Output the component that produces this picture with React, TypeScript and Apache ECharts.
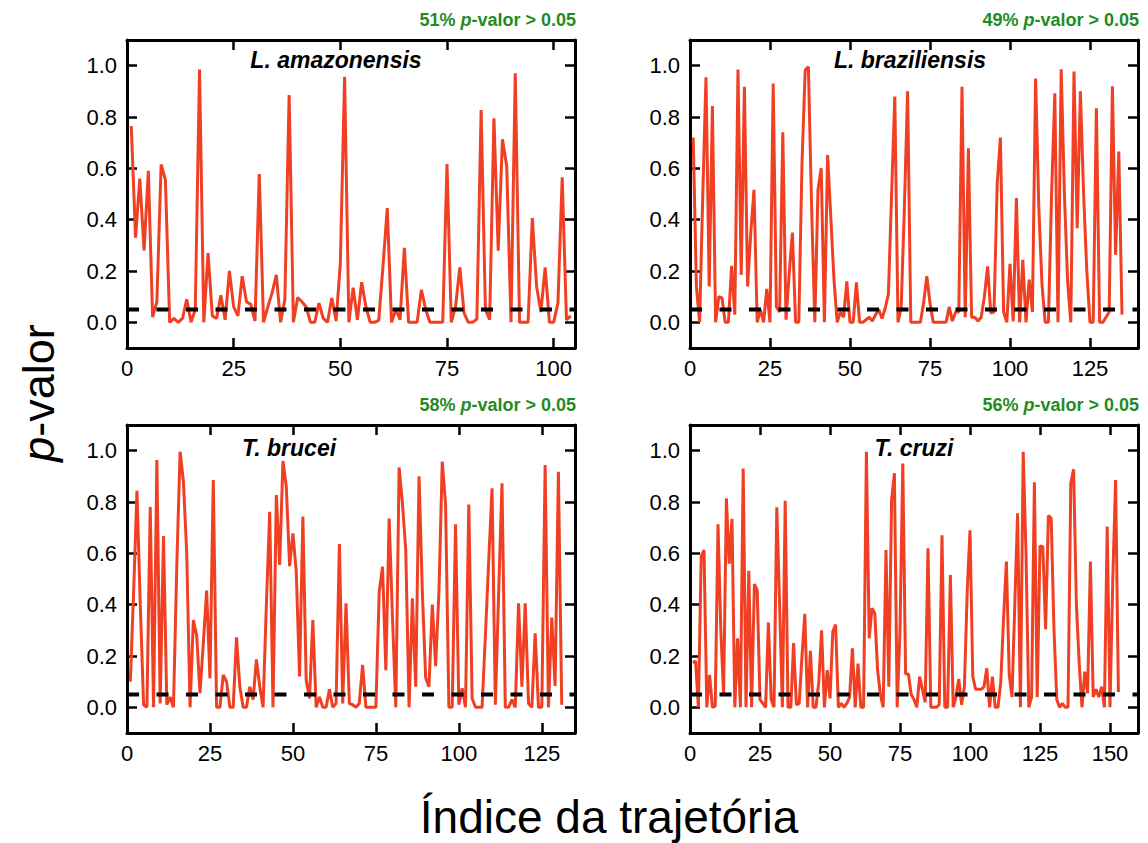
import React, { useEffect, useRef } from "react";
import * as echarts from "echarts";

// p-values per trajectory index (index starts at 1)
const amazonensis = [
  0.765, 0.33, 0.56, 0.28, 0.59, 0.02, 0.08, 0.615, 0.555, 0.0,
  0.015, 0.0, 0.015, 0.09, 0.0, 0.05, 0.985, 0.0, 0.27, 0.025,
  0.015, 0.105, 0.01, 0.2, 0.06, 0.025, 0.18, 0.08, 0.07, 0.005,
  0.578, 0.0, 0.06, 0.115, 0.185, 0.0, 0.09, 0.886, 0.0, 0.097,
  0.08, 0.06, 0.0, 0.0, 0.075, 0.015, 0.0, 0.095, 0.005, 0.23,
  0.957, 0.0, 0.135, 0.01, 0.156, 0.06, 0.0, 0.0, 0.008, 0.22,
  0.445, 0.0, 0.05, 0.01, 0.29, 0.0, 0.0, 0.0, 0.127, 0.05,
  0.0, 0.0, 0.0, 0.0, 0.617, 0.0, 0.06, 0.214, 0.036, 0.0,
  0.0, 0.013, 0.827, 0.05, 0.01, 0.795, 0.279, 0.713, 0.607, 0.0,
  0.97, 0.0, 0.0, 0.0, 0.406, 0.14, 0.04, 0.214, 0.0, 0.0,
  0.075, 0.565, 0.01, 0.025,
];

const braziliensis = [
  0.72, 0.14, 0.0, 0.5, 0.955, 0.14, 0.843, 0.0, 0.1, 0.095,
  0.0, 0.0, 0.22, 0.03, 0.985, 0.185, 0.918, 0.14, 0.35, 0.516,
  0.0, 0.05, 0.0, 0.13, 0.0, 0.93, 0.06, 0.04, 0.74, 0.01,
  0.19, 0.35, 0.0, 0.0, 0.62, 0.983, 0.996, 0.45, 0.0, 0.516,
  0.6, 0.0, 0.652, 0.41, 0.166, 0.0, 0.04, 0.02, 0.16, 0.0,
  0.0, 0.156, 0.0, 0.0, 0.01, 0.02, 0.005, 0.03, 0.05, 0.015,
  0.055, 0.11, 0.5, 0.88, 0.0, 0.06, 0.45, 0.9, 0.0, 0.0,
  0.0, 0.0, 0.075, 0.18, 0.075, 0.0, 0.0, 0.0, 0.0, 0.0,
  0.06, 0.005, 0.04, 0.04, 0.918, 0.02, 0.678, 0.02, 0.02, 0.005,
  0.02, 0.1, 0.218, 0.036, 0.04, 0.54, 0.72, 0.04, 0.0, 0.228,
  0.004, 0.484, 0.0, 0.244, 0.0, 0.166, 0.04, 0.95, 0.45, 0.147,
  0.0, 0.0, 0.5, 0.892, 0.0, 0.986, 0.5, 0.16, 0.0, 0.977,
  0.367, 0.9, 0.5, 0.2, 0.0, 0.0, 0.834, 0.0, 0.0, 0.02,
  0.04, 0.92, 0.263, 0.665, 0.03,
];

const brucei = [
  0.1, 0.45, 0.844, 0.4, 0.01, 0.0, 0.78, 0.0, 0.964, 0.015,
  0.667, 0.01, 0.04, 0.0, 0.55, 0.996, 0.88, 0.6, 0.0, 0.34,
  0.28, 0.055, 0.25, 0.455, 0.113, 0.886, 0.0, 0.0, 0.126, 0.1,
  0.0, 0.0, 0.273, 0.08, 0.0, 0.0, 0.08, 0.03, 0.187, 0.08,
  0.0, 0.4, 0.762, 0.0, 0.827, 0.555, 0.96, 0.86, 0.55, 0.678,
  0.53, 0.12, 0.743, 0.106, 0.035, 0.34, 0.0, 0.04, 0.0, 0.0,
  0.07, 0.0, 0.015, 0.636, 0.015, 0.405, 0.015, 0.01, 0.0, 0.015,
  0.165, 0.0, 0.0, 0.0, 0.0, 0.45, 0.548, 0.145, 0.736, 0.35,
  0.0, 0.935, 0.795, 0.613, 0.0, 0.425, 0.08, 0.9, 0.45, 0.115,
  0.08, 0.4, 0.16, 0.45, 0.957, 0.79, 0.0, 0.0, 0.713, 0.01,
  0.074, 0.0, 0.79, 0.035, 0.0, 0.0, 0.0, 0.28, 0.57, 0.853,
  0.01, 0.45, 0.873, 0.0, 0.0, 0.03, 0.0, 0.405, 0.08, 0.405,
  0.015, 0.0, 0.288, 0.0, 0.0, 0.944, 0.0, 0.35, 0.083, 0.918,
  0.01,
];

const cruzi = [
  0.174, 0.18, 0.0, 0.587, 0.613, 0.0, 0.126, 0.0, 0.005, 0.713,
  0.3, 0.05, 0.814, 0.56, 0.734, 0.0, 0.269, 0.0, 0.93, 0.0,
  0.532, 0.0, 0.48, 0.457, 0.03, 0.015, 0.0, 0.33, 0.03, 0.0,
  0.779, 0.4, 0.0, 0.805, 0.0, 0.0, 0.25, 0.01, 0.015, 0.2,
  0.364, 0.0, 0.22, 0.0, 0.0, 0.1, 0.3, 0.0, 0.145, 0.035,
  0.295, 0.323, 0.0, 0.015, 0.0, 0.015, 0.04, 0.23, 0.0, 0.17,
  0.0, 0.0, 0.996, 0.269, 0.386, 0.366, 0.145, 0.05, 0.0, 0.613,
  0.08, 0.808, 0.912, 0.0, 0.3, 0.95, 0.13, 0.13, 0.05, 0.03,
  0.0, 0.12, 0.07, 0.02, 0.62, 0.0, 0.0, 0.0, 0.01, 0.67,
  0.0, 0.0, 0.515, 0.0, 0.04, 0.11, 0.01, 0.08, 0.45, 0.69,
  0.12, 0.07, 0.07, 0.07, 0.08, 0.152, 0.0, 0.12, 0.0, 0.0,
  0.1, 0.35, 0.568, 0.13, 0.04, 0.4, 0.756, 0.0, 0.996, 0.6,
  0.0, 0.04, 0.877, 0.04, 0.629, 0.626, 0.304, 0.747, 0.736, 0.3,
  0.03, 0.0, 0.015, 0.0, 0.0, 0.873, 0.927, 0.4, 0.171, 0.0,
  0.139, 0.055, 0.568, 0.04, 0.07, 0.04, 0.08, 0.0, 0.704, 0.0,
  0.5, 0.886, 0.06,
];

const panelSeries = [amazonensis, braziliensis, brucei, cruzi];
const panelNames = ["L. amazonensis", "L. braziliensis", "T. brucei", "T. cruzi"];
const panelShares = ["51%", "49%", "58%", "56%"];
const panelXMax = [105, 140, 135, 160];
const xTickValues = [
  [0, 25, 50, 75, 100],
  [0, 25, 50, 75, 100, 125],
  [0, 25, 50, 75, 100, 125],
  [0, 25, 50, 75, 100, 125, 150],
];
const yTickValues = [0, 0.2, 0.4, 0.6, 0.8, 1.0];
const yMin = -0.1;
const yMax = 1.1;
const threshold = 0.05;

const FONT = "'Liberation Sans', Arial, Helvetica, sans-serif";
const RED = "#f03f23";
const GREEN = "#1f8c1f";

// panel frames (px)
const frames = [
  { left: 127, top: 40 },
  { left: 690, top: 40 },
  { left: 127, top: 425 },
  { left: 690, top: 425 },
];
const FRAME_W = 448;
const FRAME_H = 308;
const nameAnchors = [
  { x: 336, y: 60 },
  { x: 910, y: 60 },
  { x: 289, y: 448 },
  { x: 914, y: 448 },
];

function buildOption(): echarts.EChartsOption {
  const grid: any[] = [];
  const xAxis: any[] = [];
  const yAxis: any[] = [];
  const series: any[] = [];
  const graphic: any[] = [];

  const axisLine = { onZero: false, lineStyle: { color: "#000", width: 3 } };

  panelSeries.forEach((values, k) => {
    const f = frames[k];
    grid.push({ left: f.left, top: f.top, width: FRAME_W, height: FRAME_H, containLabel: false });

    const xBase = {
      type: "value",
      gridIndex: k,
      min: 0,
      max: panelXMax[k],
      axisLine,
      splitLine: { show: false },
      axisTick: {
        show: true,
        inside: true,
        length: 10,
        customValues: xTickValues[k],
        lineStyle: { color: "#000", width: 2.5 },
      },
    };
    xAxis.push({
      ...xBase,
      position: "bottom",
      axisLabel: {
        show: true,
        customValues: xTickValues[k],
        fontSize: 22,
        color: "#000",
        fontFamily: FONT,
        margin: 9,
      },
    });
    xAxis.push({ ...xBase, position: "top", axisLabel: { show: false } });

    const yBase = {
      type: "value",
      gridIndex: k,
      min: yMin,
      max: yMax,
      axisLine,
      splitLine: { show: false },
      axisTick: {
        show: true,
        inside: true,
        length: 10,
        customValues: yTickValues,
        lineStyle: { color: "#000", width: 2.5 },
      },
    };
    yAxis.push({
      ...yBase,
      position: "left",
      axisLabel: {
        show: true,
        customValues: yTickValues,
        formatter: (v: number) => v.toFixed(1),
        fontSize: 22,
        color: "#000",
        fontFamily: FONT,
        margin: 10,
      },
    });
    yAxis.push({ ...yBase, position: "right", axisLabel: { show: false } });

    series.push({
      type: "line",
      xAxisIndex: 2 * k,
      yAxisIndex: 2 * k,
      data: values.map((v, i) => [i + 1, v]),
      showSymbol: false,
      symbol: "none",
      lineStyle: { color: RED, width: 3 },
      z: 2,
    });
    series.push({
      type: "line",
      xAxisIndex: 2 * k,
      yAxisIndex: 2 * k,
      data: [
        [0, threshold],
        [panelXMax[k], threshold],
      ],
      showSymbol: false,
      symbol: "none",
      lineStyle: { color: "#000", width: 4, type: [12, 17.5] },
      z: 3,
    });

    graphic.push({
      type: "text",
      x: nameAnchors[k].x,
      y: nameAnchors[k].y,
      z: 10,
      style: {
        text: panelNames[k],
        align: "center",
        verticalAlign: "middle",
        font: `italic bold 23px ${FONT}`,
        fill: "#000",
      },
    });
    graphic.push({
      type: "text",
      x: f.left + FRAME_W + 1,
      y: f.top - 20,
      z: 10,
      style: {
        text: `{n|${panelShares[k]} }{p|p}{n|-valor > 0.05}`,
        align: "right",
        verticalAlign: "middle",
        rich: {
          n: { fontSize: 18, fontWeight: "bold", fontFamily: FONT, fill: GREEN },
          p: { fontSize: 18, fontWeight: "bold", fontStyle: "italic", fontFamily: FONT, fill: GREEN },
        },
      },
    });
  });

  graphic.push({
    type: "text",
    x: 609,
    y: 817,
    style: {
      text: "Índice da trajetória",
      align: "center",
      verticalAlign: "middle",
      font: `46px ${FONT}`,
      fill: "#000",
    },
  });
  graphic.push({
    type: "text",
    x: 38,
    y: 393,
    rotation: Math.PI / 2,
    style: {
      text: "{p|p}{n|-valor}",
      align: "center",
      verticalAlign: "middle",
      rich: {
        n: { fontSize: 45, fontFamily: FONT, fill: "#000" },
        p: { fontSize: 45, fontStyle: "italic", fontFamily: FONT, fill: "#000" },
      },
    },
  });

  return {
    animation: false,
    backgroundColor: "#fff",
    textStyle: { fontFamily: FONT },
    grid,
    xAxis,
    yAxis,
    series,
    graphic,
  } as any;
}

export default function App() {
  const ref = useRef<HTMLDivElement>(null);

  useEffect(() => {
    if (!ref.current) return;
    const chart = echarts.init(ref.current, undefined, { renderer: "svg" });
    chart.setOption(buildOption());
    return () => {
      chart.dispose();
    };
  }, []);

  return (
    <div
      ref={ref}
      style={{ position: "fixed", left: 0, top: 0, width: 1148, height: 843, background: "#fff" }}
    />
  );
}
